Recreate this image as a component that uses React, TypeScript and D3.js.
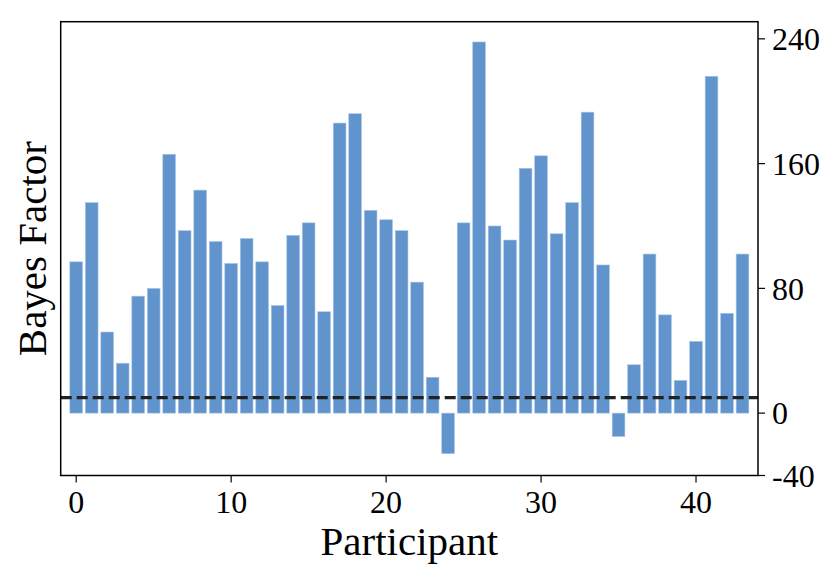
import * as d3 from "d3";
import React from "react";

// bayes factor per participant
const participants = d3.range(0, 44);
const bayesFactors = [
  97, 135, 52, 32, 75, 80, 166, 117, 143, 110,
  96, 112, 97, 69, 114, 122, 65, 186, 192, 130,
  124, 117, 84, 23, -26, 122, 238, 120, 111, 157,
  165, 115, 135, 193, 95, -15, 31, 102, 63, 21,
  46, 216, 64, 102,
];
const yTicks = [-40, 0, 80, 160, 240];
const xTicks = [0, 10, 20, 30, 40];
const threshold = 10;

const App = () => {
  let svgWidth = 838;
  let svgHeight = 581;
  let margin = { top: 21.7, right: 80, bottom: 105.5, left: 60.7 };
  let w = 758 - margin.left;
  let h = svgHeight - (margin.top + margin.bottom);

  let x = d3.scaleLinear().domain([-1, 44]).range([0, w]);
  let y = d3.scaleLinear().domain([-40, 251]).range([h, 0]);
  let barW = x(0.82) - x(0);

  let font = "'Liberation Serif', 'DejaVu Serif', serif";

  let bars = bayesFactors.map((v, i) => {
    let p = participants[i];
    return (
      <rect
        key={i}
        x={x(p) - barW / 2}
        y={y(Math.max(0, v))}
        width={barW}
        height={Math.abs(y(v) - y(0))}
        fill="#6194cc"
        stroke="#a8c5e8"
        strokeWidth={0.6}
      />
    );
  });

  let transform = "translate(" + margin.left + "," + margin.top + ")";

  return (
    <svg
      width={svgWidth}
      height={svgHeight}
      style={{ position: "absolute", left: 0, top: 0, background: "#fff" }}
    >
      <g transform={transform}>
        {bars}
        <line
          x1={0}
          x2={w}
          y1={y(threshold)}
          y2={y(threshold)}
          stroke="#222"
          strokeWidth={3.2}
          strokeDasharray="11,5"
        />
        <rect x={0} y={0} width={w} height={h} fill="none" stroke="#000" strokeWidth={1.5} />
        {xTicks.map((t) => (
          <g key={t} transform={"translate(" + x(t) + "," + h + ")"}>
            <line y1={0} y2={7} stroke="#000" strokeWidth={1.2} />
            <text y={37} textAnchor="middle" fontFamily={font} fontSize={32}>
              {t}
            </text>
          </g>
        ))}
        {yTicks.map((t) => (
          <g key={t} transform={"translate(" + w + "," + y(t) + ")"}>
            <line x1={0} x2={7} stroke="#000" strokeWidth={1.2} />
            <text x={14} dy="0.35em" fontFamily={font} fontSize={32}>
              {t < 0 ? "-" + Math.abs(t) : t}
            </text>
          </g>
        ))}
      </g>
      <text
        x={margin.left + w / 2}
        y={555}
        textAnchor="middle"
        fontFamily={font}
        fontSize={41}
      >
        Participant
      </text>
      <text
        transform={"translate(46," + (margin.top + h / 2) + ") rotate(-90)"}
        textAnchor="middle"
        fontFamily={font}
        fontSize={41}
      >
        Bayes Factor
      </text>
    </svg>
  );
};

export default App;
